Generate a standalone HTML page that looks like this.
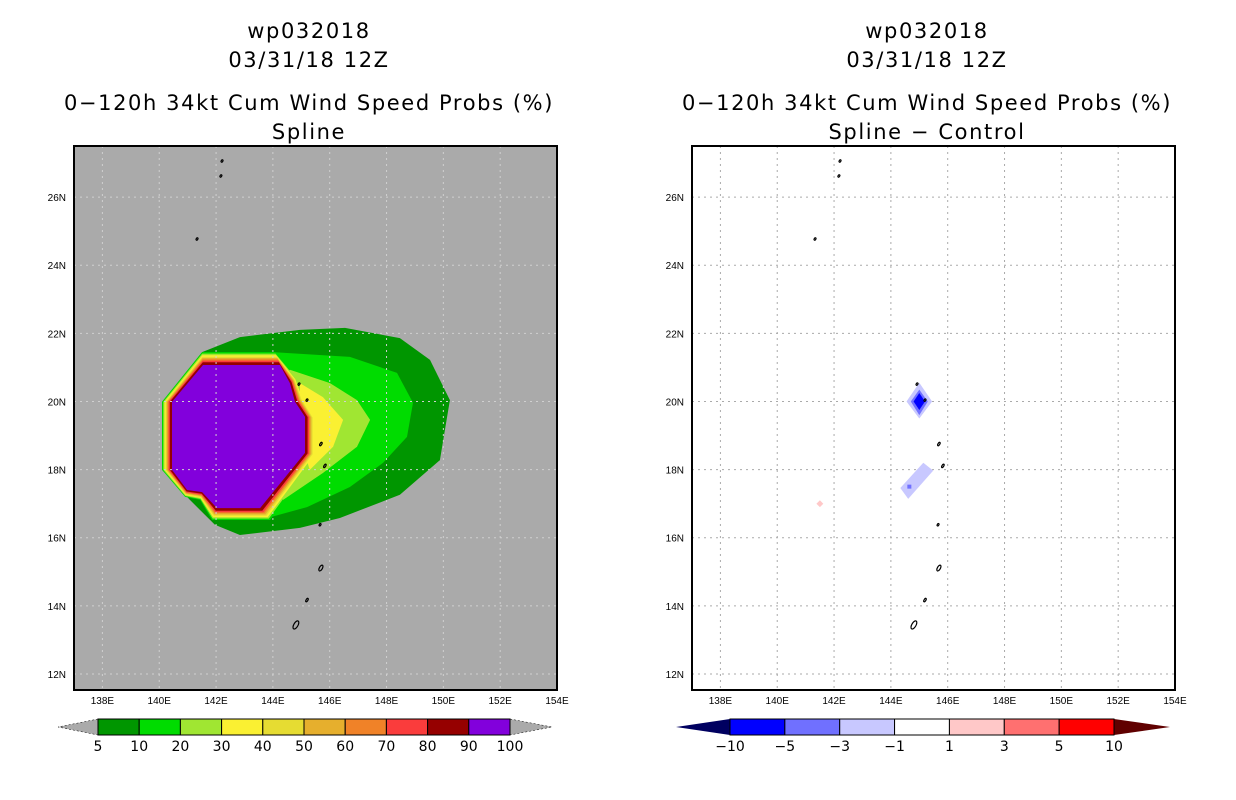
<!DOCTYPE html>
<html><head><meta charset="utf-8"><style>
body{margin:0;background:#fff;width:1236px;height:800px;overflow:hidden}
svg{display:block}
.t{font-family:"DejaVu Sans","Liberation Sans",sans-serif;font-size:21px;fill:#000;text-anchor:middle;letter-spacing:1.6px}
.ax{font-family:"Liberation Sans",sans-serif;font-size:10px;fill:#000}
.cb{font-family:"DejaVu Sans","Liberation Sans",sans-serif;font-size:14px;fill:#000;text-anchor:middle}
</style></head><body>
<svg id="s" width="1236" height="800" xmlns="http://www.w3.org/2000/svg"></svg>
<script>
const lonTicks=[138,140,142,144,146,148,150,152,154];
const latTicks=[12,14,16,18,20,22,24,26];
const probLevels=["5","10","20","30","40","50","60","70","80","90","100"];
const probColors=["#009600","#00dc00","#a0e632","#faf032","#e6dc32","#e6af2d","#f08228","#fa3c3c","#960000","#8200dc"];
const diffLevels=["\u221210","\u22125","\u22123","\u22121","1","3","5","10"];
const diffColors=["#0000ff","#7070ff","#c8c8ff","#ffffff","#ffc8c8","#ff7070","#ff0000"];
const shape5=[[141.51,21.45],[142.84,21.89],[144.95,22.1],[146.54,22.16],[148.47,21.86],[149.53,21.22],[150.23,20.04],[149.88,18.28],[148.47,17.26],[146.36,16.58],[144.95,16.29],[142.84,16.08],[141.96,16.38],[141.08,17.11],[140.10,17.99],[140.10,19.99]];
const lobe10=[[144.0,21.45],[146.71,21.31],[148.37,20.84],[148.93,19.96],[148.72,18.96],[147.88,18.2],[146.71,17.49],[145.2,16.9],[143.55,16.52],[144.0,18.5]];
const lobe20=[[144.25,20.6],[144.6,20.93],[146.01,20.54],[146.96,20.04],[147.42,19.46],[146.96,18.67],[145.76,17.9],[144.36,17.11],[143.9,17.7]];
const lobe30=[[144.95,20.54],[145.76,20.13],[146.47,19.46],[146.12,18.67],[145.3,17.99],[144.95,18.9]];
const octOuter=[[141.51,21.45],[144.07,21.45],[144.85,20.69],[145.13,20.10],[145.55,19.52],[145.55,18.43],[143.90,16.52],[141.86,16.52],[141.44,17.11],[140.91,17.20],[140.10,17.99],[140.10,19.99]];
const octInner=[[141.54,21.07],[144.25,21.07],[144.6,20.54],[144.78,19.99],[145.13,19.55],[145.13,18.49],[143.55,16.87],[142.03,16.87],[141.51,17.34],[140.98,17.40],[140.45,17.99],[140.45,19.99]];
const ringFrac=[0,0.12,0.24,0.36,0.46,0.56,0.66,0.78,1];
const diffUpperLight=[[145,20.55],[145.45,20.0],[145,19.5],[144.55,20.0]];
const diffUpperMid=[[145,20.35],[145.3,20.0],[145,19.6],[144.7,20.0]];
const diffUpperDark=[[145,20.25],[145.2,20.0],[145,19.75],[144.8,20.0]];
const diffLower=[[144.33,17.46],[145.14,18.2],[145.49,17.97],[144.61,17.14]];
const diffLowerDot=[144.65,17.5];
const diffPink=[141.5,17.0];
const islands=[[142.21,27.06],[142.17,26.62],[141.33,24.77],[144.92,20.51],[145.2,20.04],[145.69,18.75],[145.83,18.11],[145.66,16.38],[145.69,15.11],[145.2,14.17],[144.81,13.44]];
const islandSize=[1,1,1,1,1,1.5,1.5,1,2.5,1.5,3.5];

const NS="http://www.w3.org/2000/svg";
const svg=document.getElementById('s');
function el(tag,attrs,parent){const e=document.createElementNS(NS,tag);for(const k in attrs)e.setAttribute(k,attrs[k]);(parent||svg).appendChild(e);return e;}
const LON0=137,LON1=154,LAT0=11.53,LAT1=27.5,Y0=146,Y1=690,W=483;
function mk(x0){return {x:l=>x0+(l-LON0)/(LON1-LON0)*W,y:a=>Y0+(LAT1-a)/(LAT1-LAT0)*(Y1-Y0)};}
function pts(ax,arr){return arr.map(p=>ax.x(p[0]).toFixed(1)+','+ax.y(p[1]).toFixed(1)).join(' ');}

function titles(cx,l4){
  const lines=[["wp032018",38],["03/31/18 12Z",67],["0\u2212120h 34kt Cum Wind Speed Probs (%)",110],[l4,139]];
  lines.forEach((ln,i)=>{const t=el('text',{class:'t',x:cx,y:ln[1]});t.textContent=ln[0];
  
  });
}
function axes(ax,x0,g){
  lonTicks.forEach(l=>{const t=el('text',{class:'ax',x:ax.x(l),y:704,'text-anchor':'middle'},g);t.textContent=l+'E';
  
  });
  latTicks.forEach(a=>{const t=el('text',{class:'ax',x:x0-8,y:ax.y(a)+4,'text-anchor':'end'},g);t.textContent=a+'N';
  
  });
}
function grid(ax,g,col){
  lonTicks.slice(0,-1).forEach(l=>{const e=el('line',{x1:ax.x(l),x2:ax.x(l),y1:Y0,y2:Y1,stroke:col,'stroke-width':1,'stroke-dasharray':'2,4'},g);
  
  });
  latTicks.forEach(a=>{const e=el('line',{x1:ax.x(LON0),x2:ax.x(LON1),y1:ax.y(a),y2:ax.y(a),stroke:col,'stroke-width':1,'stroke-dasharray':'2,4'},g);
  
  });
}
function drawIslands(ax,g){
  islands.forEach((p,i)=>{const s=islandSize[i];const e=el('ellipse',{cx:ax.x(p[0]),cy:ax.y(p[1]),rx:Math.max(0.8,s*0.6),ry:s*1.3,fill:'none',stroke:'#000','stroke-width':1.2,transform:`rotate(30 ${ax.x(p[0])} ${ax.y(p[1])})`},g);
  
  });
}
titles(309,"Spline");
const L=mk(74);
const gL=el('g',{});


el('rect',{x:74,y:Y0,width:W,height:Y1-Y0,fill:'#aaaaaa'},gL);
function poly(ax,arr,col,g,name){const e=el('polygon',{points:pts(ax,arr),fill:col},g);return e;}
poly(L,shape5,probColors[0],gL,'contour-5');
poly(L,lobe10,probColors[1],gL,'contour-10');
const interp=t=>octOuter.map((p,i)=>[p[0]+(octInner[i][0]-p[0])*t,p[1]+(octInner[i][1]-p[1])*t]);
poly(L,interp(ringFrac[0]),probColors[1],gL,'contour-10-core');
poly(L,lobe20,probColors[2],gL,'contour-20');
poly(L,interp(ringFrac[1]),probColors[2],gL,'contour-20-core');
poly(L,lobe30,probColors[3],gL,'contour-30');
for(let i=2;i<ringFrac.length;i++){poly(L,interp(ringFrac[i]),probColors[i+1],gL,'contour-'+probLevels[i+1]);}
grid(L,gL,'#d0d0d0');
drawIslands(L,gL);
const fL=el('rect',{x:74,y:Y0,width:W,height:Y1-Y0,fill:'none',stroke:'#000','stroke-width':2},gL);


axes(L,74,gL);
const gCB=el('g',{});


const cbx0=98,cbx1=510,cby=719,cbh=16,bw=(cbx1-cbx0)/probColors.length;
el('polygon',{points:`${cbx0},${cby} 58,${cby+cbh/2} ${cbx0},${cby+cbh}`,fill:'#aaaaaa',stroke:'#000','stroke-width':0.5,'stroke-dasharray':'2,2'},gCB);
el('polygon',{points:`${cbx1},${cby} 552,${cby+cbh/2} ${cbx1},${cby+cbh}`,fill:'#aaaaaa',stroke:'#000','stroke-width':0.5,'stroke-dasharray':'2,2'},gCB);
probColors.forEach((c,i)=>{const r=el('rect',{x:cbx0+i*bw,y:cby,width:bw,height:cbh,fill:c,stroke:'#000','stroke-width':1},gCB);

});
probLevels.forEach((s,i)=>{const t=el('text',{class:'cb',x:cbx0+i*bw,y:751},gCB);t.textContent=s;

});
titles(927,"Spline \u2212 Control");
const R=mk(692);
const gR=el('g',{});


el('rect',{x:692,y:Y0,width:W,height:Y1-Y0,fill:'#fff'},gR);
grid(R,gR,'#aaaaaa');
poly(R,diffUpperLight,diffColors[2],gR,'diff-blob-upper-light');
poly(R,diffUpperMid,diffColors[1],gR,'diff-blob-upper-mid');
poly(R,diffUpperDark,diffColors[0],gR,'diff-blob-upper-dark');
poly(R,diffLower,diffColors[2],gR,'diff-blob-lower');
const dot=el('rect',{x:R.x(diffLowerDot[0])-2,y:R.y(diffLowerDot[1])-2,width:4,height:4,fill:diffColors[1]},gR);


const pk=el('polygon',{points:pts(R,[[diffPink[0],diffPink[1]+0.1],[diffPink[0]+0.12,diffPink[1]],[diffPink[0],diffPink[1]-0.1],[diffPink[0]-0.12,diffPink[1]]]),fill:diffColors[4]},gR);


drawIslands(R,gR);
const fR=el('rect',{x:692,y:Y0,width:W,height:Y1-Y0,fill:'none',stroke:'#000','stroke-width':2},gR);


axes(R,692,gR);
const gCB2=el('g',{});


const dx0=730,dx1=1114,dbw=(dx1-dx0)/diffColors.length;
el('polygon',{points:`${dx0},${cby} 676,${cby+cbh/2} ${dx0},${cby+cbh}`,fill:'#000060'},gCB2);
el('polygon',{points:`${dx1},${cby} 1170,${cby+cbh/2} ${dx1},${cby+cbh}`,fill:'#600000'},gCB2);
diffColors.forEach((c,i)=>{const r=el('rect',{x:dx0+i*dbw,y:cby,width:dbw,height:cbh,fill:c,stroke:'#000','stroke-width':1},gCB2);

});
diffLevels.forEach((s,i)=>{const t=el('text',{class:'cb',x:dx0+i*dbw,y:751},gCB2);t.textContent=s;

});
</script>
</body></html>
